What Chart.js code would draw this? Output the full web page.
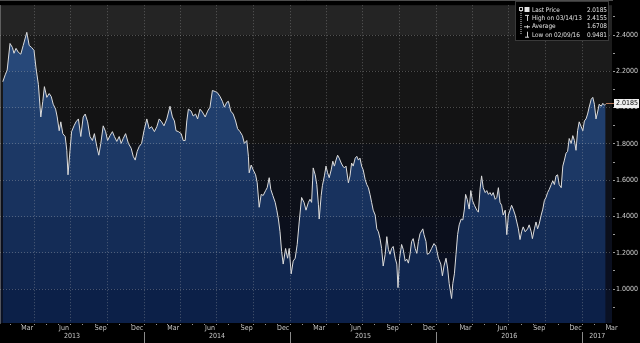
<!DOCTYPE html>
<html>
<head>
<meta charset="utf-8">
<script src="https://cdn.jsdelivr.net/npm/chart.js@4.4.1/dist/chart.umd.min.js"></script>
<style>
html, body { margin: 0; padding: 0; background: #000; }
#wrap { width: 640px; height: 343px; position: relative; }
</style>
</head>
<body>
<div id="wrap"><canvas id="chart"></canvas></div>
<script>
const FONT = '"Liberation Sans Narrow", "DejaVu Sans Condensed", "Roboto", sans-serif';

// days counted from 2013-01-01
const days = [
  12, 18, 23, 30, 36, 40, 45, 51, 57, 63, 72, 78, 84, 90, 95, 101, 107, 112, 116, 122,
  128, 133, 138, 144, 148, 153, 157, 162, 168, 172, 175, 180, 184, 190, 195, 201, 207, 213, 218, 224,
  230, 236, 241, 247, 252, 257, 263, 269, 274, 280, 286, 291, 297, 303, 308, 313, 319, 326, 333, 338,
  343, 348, 353, 359, 365, 372, 378, 384, 391, 397, 403, 409, 415, 422, 430, 436, 441, 445, 451, 458,
  463, 468, 472, 476, 483, 488, 494, 499, 505, 511, 518, 524, 530, 536, 543, 548, 555, 561, 566, 572,
  576, 582, 588, 594, 599, 605, 611, 616, 622, 626, 628, 633, 638, 644, 648, 653, 658, 663, 669, 673,
  678, 682, 687, 693, 697, 701, 705, 709, 713, 719, 724, 728, 733, 738, 743, 748, 753, 759, 765, 770,
  776, 780, 784, 788, 793, 797, 801, 803, 808, 811, 816, 820, 824, 828, 833, 837, 841, 845, 849, 853,
  858, 862, 866, 870, 876, 880, 884, 888, 893, 897, 901, 905, 909, 913, 918, 922, 926, 930, 934, 938,
  943, 947, 951, 955, 959, 963, 968, 972, 976, 980, 984, 988, 993, 997, 1000, 1004, 1009, 1013, 1018, 1022,
  1026, 1030, 1034, 1038, 1043, 1047, 1051, 1055, 1062, 1065, 1070, 1073, 1078, 1084, 1090, 1095, 1101, 1107, 1111, 1115,
  1120, 1124, 1128, 1134, 1137, 1141, 1145, 1149, 1153, 1158, 1162, 1166, 1169, 1173, 1178, 1182, 1186, 1191, 1197, 1201,
  1205, 1209, 1213, 1218, 1222, 1226, 1230, 1234, 1238, 1243, 1247, 1251, 1255, 1259, 1263, 1268, 1272, 1276, 1280, 1284,
  1288, 1293, 1297, 1301, 1305, 1309, 1313, 1318, 1324, 1328, 1333, 1336, 1341, 1345, 1349, 1353, 1358, 1362, 1366, 1370,
  1374, 1378, 1383, 1387, 1391, 1395, 1399, 1403, 1408, 1412, 1416, 1420, 1424, 1428, 1433, 1437, 1441, 1445, 1449, 1453,
  1458, 1462, 1466, 1470, 1474, 1478, 1483, 1487, 1491, 1495, 1499, 1503, 1508, 1512, 1516, 1519
];
const prices = [
  2.143, 2.181, 2.208, 2.354, 2.332, 2.300, 2.327, 2.305, 2.295, 2.343, 2.4155, 2.343, 2.332, 2.316, 2.219, 2.127, 1.949, 2.035, 2.116, 2.057,
  2.078, 2.062, 2.019, 1.992, 1.949, 1.873, 1.922, 1.857, 1.841, 1.765, 1.630, 1.765, 1.868, 1.900, 1.922, 1.938, 1.841, 1.949, 1.965, 1.922,
  1.841, 1.819, 1.857, 1.786, 1.738, 1.803, 1.900, 1.868, 1.819, 1.846, 1.868, 1.841, 1.814, 1.841, 1.803, 1.830, 1.857, 1.803, 1.776, 1.732,
  1.711, 1.759, 1.786, 1.803, 1.873, 1.938, 1.884, 1.895, 1.868, 1.895, 1.938, 1.922, 1.900, 1.938, 2.008, 1.949, 1.927, 1.873, 1.868, 1.857,
  1.819, 1.819, 1.927, 1.992, 1.981, 1.954, 1.965, 1.938, 1.992, 1.976, 1.949, 1.981, 2.003, 2.095, 2.089, 2.084, 2.062, 2.035, 2.003, 2.030,
  2.035, 1.981, 1.965, 1.927, 1.884, 1.868, 1.846, 1.803, 1.819, 1.732, 1.641, 1.684, 1.657, 1.630, 1.586, 1.451, 1.522, 1.516, 1.543, 1.559,
  1.614, 1.549, 1.516, 1.478, 1.435, 1.386, 1.316, 1.208, 1.138, 1.224, 1.170, 1.224, 1.084, 1.154, 1.170, 1.246, 1.370, 1.505, 1.478, 1.435,
  1.478, 1.495, 1.478, 1.668, 1.630, 1.576, 1.468, 1.386, 1.516, 1.570, 1.624, 1.678, 1.641, 1.614, 1.657, 1.705, 1.678, 1.711, 1.738, 1.722,
  1.695, 1.678, 1.668, 1.678, 1.586, 1.624, 1.695, 1.678, 1.722, 1.732, 1.711, 1.722, 1.678, 1.657, 1.603, 1.576, 1.559, 1.522, 1.478, 1.435,
  1.408, 1.332, 1.316, 1.278, 1.224, 1.127, 1.192, 1.289, 1.219, 1.192, 1.224, 1.235, 1.170, 1.138, 1.008, 1.170, 1.246, 1.219, 1.154, 1.165,
  1.143, 1.192, 1.262, 1.278, 1.224, 1.197, 1.262, 1.305, 1.332, 1.300, 1.262, 1.192, 1.197, 1.224, 1.251, 1.235, 1.170, 1.138, 1.073, 1.127,
  1.170, 1.116, 1.030, 0.948, 1.030, 1.084, 1.192, 1.300, 1.354, 1.386, 1.381, 1.441, 1.522, 1.495, 1.441, 1.543, 1.489, 1.462, 1.435, 1.424,
  1.549, 1.624, 1.559, 1.532, 1.543, 1.522, 1.532, 1.516, 1.532, 1.495, 1.505, 1.559, 1.478, 1.462, 1.408, 1.435, 1.300, 1.408, 1.435, 1.462,
  1.441, 1.408, 1.370, 1.332, 1.273, 1.316, 1.343, 1.316, 1.332, 1.354, 1.316, 1.278, 1.332, 1.370, 1.332, 1.359, 1.408, 1.441, 1.489, 1.505,
  1.532, 1.549, 1.576, 1.597, 1.576, 1.624, 1.630, 1.576, 1.559, 1.678, 1.711, 1.749, 1.759, 1.830, 1.803, 1.846, 1.819, 1.765, 1.873, 1.922,
  1.895, 1.873, 1.927, 1.938, 1.965, 2.003, 2.046, 2.057, 2.019, 1.938, 1.976, 2.019, 2.008, 2.024, 2.014, 2.0185
];

const monthNames = ['Jan', 'Feb', 'Mar', 'Apr', 'May', 'Jun', 'Jul', 'Aug', 'Sep', 'Oct', 'Nov', 'Dec'];
const labelledMonths = [2, 5, 8, 11];
const years = [2013, 2014, 2015, 2016, 2017];
const yLabelValues = [1.0, 1.2, 1.4, 1.6, 1.8, 2.0, 2.2, 2.4];
const yMinorValues = [0.9, 1.1, 1.3, 1.5, 1.7, 1.9, 2.1, 2.3, 2.5];

const legendLabels = ['Last Price', 'High on 03/14/13', 'Average', 'Low on 02/09/16'];
const legendValues = ['2.0185', '2.4155', '1.6708', '0.9481'];
const lastPrice = 2.0185;

// shading bands, top to bottom, between the 0.2 grid lines
const bandEdges = [2.4, 2.2, 2.0, 1.8, 1.6, 1.4, 1.2, 1.0];
const skyBands = ['#242424', '#1b1b1b', '#161616', '#131314', '#101218', '#0d1019', '#0b0f1c', '#0a0f20', '#0a1124'];
const fillBands = ['#2b4d7f', '#274879', '#234372', '#203e6c', '#1c3865', '#18325e', '#142c56', '#10264f', '#0c2048'];

const X_MIN = 5, X_MAX = 1535;
const DAY = 86400000, T0 = Date.UTC(2013, 0, 1);
function dayOf(y, m, d) { return (Date.UTC(y, m, d) - T0) / DAY; }

// month ticks: starts (tick marks, quarter grid lines) and mid-months (labels)
const monthInfo = new Map();
years.forEach(yr => {
  for (let m = 0; m < 12; m++) {
    monthInfo.set(dayOf(yr, m, 1), { kind: 'start', m });
    monthInfo.set(dayOf(yr, m, 15), { kind: 'mid', m });
  }
});
const yearInfo = new Map();
years.forEach(yr => {
  const a = Math.max(dayOf(yr, 0, 1), X_MIN);
  const b = Math.min(dayOf(yr + 1, 0, 1), X_MAX);
  if (yr > years[0]) yearInfo.set(dayOf(yr, 0, 1), { kind: 'edge' });
  yearInfo.set((a + b) / 2, { kind: 'mid', label: String(yr) });
});

function fillGradient(context) {
  const chart = context.chart;
  const area = chart.chartArea;
  if (!area) return fillBands[4];
  const y = chart.scales.y;
  const h = area.bottom - area.top;
  const g = chart.ctx.createLinearGradient(0, area.top, 0, area.bottom);
  let prev = 0;
  bandEdges.forEach((v, i) => {
    const p = Math.min(Math.max((y.getPixelForValue(v) - area.top) / h, 0), 1);
    g.addColorStop(prev, fillBands[i]);
    g.addColorStop(p, fillBands[i]);
    prev = p;
  });
  g.addColorStop(prev, fillBands[fillBands.length - 1]);
  g.addColorStop(1, fillBands[fillBands.length - 1]);
  return g;
}

const backdrop = {
  id: 'backdrop',
  beforeDraw(chart) {
    const { ctx, chartArea: a, scales: { y } } = chart;
    ctx.save();
    ctx.fillStyle = '#000';
    ctx.fillRect(0, 0, chart.width, chart.height);
    let top = a.top;
    bandEdges.forEach((v, i) => {
      const py = y.getPixelForValue(v);
      ctx.fillStyle = skyBands[i];
      ctx.fillRect(a.left, top, a.right - a.left, py - top);
      top = py;
    });
    ctx.fillStyle = skyBands[skyBands.length - 1];
    ctx.fillRect(a.left, top, a.right - a.left, a.bottom - top);
    ctx.restore();
  }
};

const overlay = {
  id: 'overlay',
  afterDraw(chart) {
    const { ctx, chartArea: a, scales: { y } } = chart;
    ctx.save();
    // last price tag on the axis
    const py = Math.round(y.getPixelForValue(lastPrice)) - 1;
    ctx.strokeStyle = '#b77a5c';
    ctx.lineWidth = 1;
    ctx.beginPath();
    ctx.moveTo(a.right - 6, py + 0.5);
    ctx.lineTo(a.right + 2, py + 0.5);
    ctx.stroke();
    ctx.fillStyle = '#f0f0f0';
    ctx.fillRect(a.right + 2, py - 4, 25, 9);
    ctx.fillStyle = '#000';
    ctx.font = '7px ' + FONT;
    ctx.textAlign = 'left';
    ctx.textBaseline = 'middle';
    ctx.fillText(lastPrice.toFixed(4), a.right + 4, py + 0.5);

    // legend box
    const bx = a.right - 97, by = 1, bw = 94, bh = 40;
    ctx.fillStyle = '#000';
    ctx.fillRect(bx, by, bw, bh);
    ctx.strokeStyle = '#3a3a3a';
    ctx.strokeRect(bx + 0.5, by + 0.5, bw - 1, bh - 1);
    ctx.font = '6.4px ' + FONT;
    ctx.fillStyle = '#e2e2e2';
    ctx.strokeStyle = '#d0d0d0';
    // tree line on the left
    ctx.strokeRect(bx + 4.5, by + 6.5, 3, 3);
    ctx.setLineDash([1, 1]);
    ctx.beginPath();
    ctx.moveTo(bx + 6, by + 10);
    ctx.lineTo(bx + 6, by + 33.5);
    ctx.stroke();
    ctx.setLineDash([]);
    legendLabels.forEach((lab, i) => {
      const ry = by + 8.5 + i * 8.4;
      const ix = bx + 12;
      ctx.beginPath();
      if (i === 0) {
        ctx.fillRect(ix - 2.5, ry - 2.5, 5, 5);
      } else if (i === 1) {
        ctx.moveTo(ix - 2, ry - 2.5); ctx.lineTo(ix + 2, ry - 2.5);
        ctx.moveTo(ix + 0.5, ry - 2.5); ctx.lineTo(ix + 0.5, ry + 3);
      } else if (i === 2) {
        ctx.moveTo(ix - 3, ry + 0.5); ctx.lineTo(ix + 3, ry + 0.5);
        ctx.moveTo(ix + 0.5, ry - 1); ctx.lineTo(ix + 0.5, ry + 2);
      } else {
        ctx.moveTo(ix + 0.5, ry - 3); ctx.lineTo(ix + 0.5, ry + 2.5);
        ctx.moveTo(ix - 2, ry + 2.5); ctx.lineTo(ix + 2, ry + 2.5);
      }
      ctx.stroke();
      ctx.textAlign = 'left';
      ctx.fillText(lab, bx + 17, ry + 0.5);
      ctx.textAlign = 'right';
      ctx.fillText(legendValues[i], bx + bw - 2, ry + 0.5);
    });
    ctx.restore();
  }
};

Chart.defaults.font.family = FONT;
Chart.defaults.font.size = 7;
Chart.defaults.color = '#c8c8c8';

new Chart(document.getElementById('chart'), {
  type: 'line',
  data: {
    datasets: [{
      data: days.map((d, i) => ({ x: d, y: prices[i] })),
      borderColor: '#dcdcdc',
      borderWidth: 1,
      pointRadius: 0,
      tension: 0,
      fill: 'start',
      backgroundColor: fillGradient
    }]
  },
  options: {
    responsive: true,
    maintainAspectRatio: false,
    animation: false,
    layout: { padding: 0 },
    plugins: { legend: { display: false }, tooltip: { enabled: false } },
    scales: {
      x: {
        type: 'linear',
        position: 'bottom',
        weight: 0,
        min: X_MIN,
        max: X_MAX,
        afterBuildTicks: s => {
          s.ticks = [...monthInfo.keys()].filter(v => v >= X_MIN && v <= X_MAX)
            .sort((p, q) => p - q).map(v => ({ value: v }));
        },
        afterFit: s => { s.height = 9; },
        ticks: {
          autoSkip: false,
          maxRotation: 0,
          padding: -1,
          color: '#c8c8c8',
          callback: v => {
            const info = monthInfo.get(v);
            return info && info.kind === 'mid' && labelledMonths.includes(info.m) ? monthNames[info.m] : '';
          }
        },
        grid: {
          z: 1,
          tickLength: 2,
          lineWidth: 1,
          color: c => {
            const info = c.tick && monthInfo.get(c.tick.value);
            return info && info.kind === 'start' && info.m % 3 === 0 ? 'rgba(190,190,190,0.35)' : 'rgba(0,0,0,0)';
          },
          tickColor: c => {
            const info = c.tick && monthInfo.get(c.tick.value);
            return info && info.kind === 'start' ? '#9a9a9a' : 'rgba(0,0,0,0)';
          }
        },
        border: { display: true, color: '#9a9a9a', width: 1, dash: [1, 2] }
      },
      x2: {
        type: 'linear',
        position: 'bottom',
        weight: 1,
        min: X_MIN,
        max: X_MAX,
        afterBuildTicks: s => {
          s.ticks = [...yearInfo.keys()].sort((p, q) => p - q).map(v => ({ value: v }));
        },
        afterFit: s => { s.height = 11; },
        ticks: {
          autoSkip: false,
          maxRotation: 0,
          padding: -11,
          color: '#c8c8c8',
          callback: v => {
            const info = yearInfo.get(v);
            return info && info.kind === 'mid' ? info.label : '';
          }
        },
        grid: {
          drawOnChartArea: false,
          tickLength: 11,
          tickColor: c => {
            const info = c.tick && yearInfo.get(c.tick.value);
            return info && info.kind === 'edge' ? '#8a8a8a' : 'rgba(0,0,0,0)';
          }
        },
        border: { display: false }
      },
      y: {
        type: 'linear',
        position: 'right',
        min: 0.813,
        max: 2.565,
        afterBuildTicks: s => {
          s.ticks = [...yLabelValues, ...yMinorValues].sort((p, q) => p - q).map(v => ({ value: v }));
        },
        afterFit: s => { s.width = 28; },
        ticks: {
          autoSkip: false,
          padding: 1,
          color: '#d0d0d0',
          callback: v => yLabelValues.some(t => Math.abs(t - v) < 1e-6) ? v.toFixed(4) : ''
        },
        grid: {
          z: 1,
          tickLength: 3,
          color: c => c.tick && yLabelValues.some(t => Math.abs(t - c.tick.value) < 1e-6)
            ? 'rgba(190,190,190,0.35)' : 'rgba(0,0,0,0)',
          tickColor: '#9a9a9a'
        },
        border: { display: true, color: '#9a9a9a', width: 1, dash: [1, 2] }
      }
    }
  },
  plugins: [backdrop, overlay]
});
</script>
</body>
</html>
